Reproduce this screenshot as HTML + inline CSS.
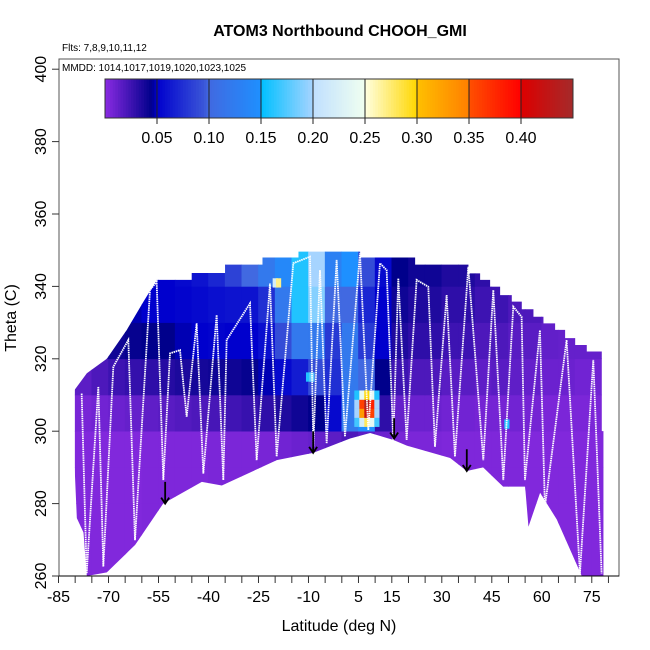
<!DOCTYPE html>
<html><head><meta charset="utf-8"><style>
body{margin:0;background:#fff}
svg{display:block;font-family:"Liberation Sans",Arial,sans-serif}
</style></head><body>
<svg id="chart" width="650" height="650" viewBox="0 0 650 650">
<text x="340" y="36" text-anchor="middle" font-size="16" font-weight="bold">ATOM3 Northbound CHOOH_GMI</text>
<text x="62" y="51" font-size="10">Flts: 7,8,9,10,11,12</text>
<defs><clipPath id="env"><polygon id="envpoly"/></clipPath></defs>
<g id="cells" clip-path="url(#env)"></g>
<g id="tracks"></g>
<g id="arrows"></g>
<rect x="59" y="59" width="560" height="517" fill="none" stroke="#555" stroke-width="1"/>
<text x="62" y="71" font-size="10">MMDD: 1014,1017,1019,1020,1023,1025</text>
<g id="cbar"></g>
<g id="xaxis"></g>
<g id="yaxis"></g>
<text x="339" y="631" text-anchor="middle" font-size="16">Latitude (deg N)</text>
<text transform="translate(16,318) rotate(-90)" text-anchor="middle" font-size="16">Theta (C)</text>
</svg>
<script>
const latBins=[-80,-75,-70,-65,-60,-55,-50,-45,-40,-35,-30,-25,-20,-15,-10,-5,0,5,10,15,20,25,30,35,40,45,50,55,60,65,70,75];
const thetaBands=[260,270,280,290,300,310,320,330,340];
const lowVals=[.003,.003,.003,.003,.004,.004,.004,.004,.005,.005,.005,.006,.008,.01,.012,.015,.02,.015,.01,.006,.005,.005,.004,.004,.004,.004,.004,.003,.003,.003,.003,.003];
const row300=[.006,.008,.01,.012,.014,.016,.018,.02,.022,.024,.027,.03,.035,.04,.045,.055,.12,.15,.03,.012,.01,.01,.008,.008,.007,.007,.008,.007,.005,.005,.005,.005];
const row310=[.015,.02,.025,.028,.03,.033,.036,.038,.04,.04,.043,.048,.055,.065,.09,.075,.12,.1,.045,.025,.02,.02,.016,.016,.014,.016,.014,.012,.01,.01,.008,.008];
const row320=[.03,.035,.04,.043,.045,.045,.048,.05,.052,.05,.05,.058,.09,.12,.12,.08,.12,.08,.05,.035,.03,.03,.025,.025,.02,.02,.016,.016,.013,.012,.012,.012];
const row330=[.04,.04,.045,.048,.05,.05,.052,.055,.058,.06,.06,.075,.12,.16,.19,.1,.1,.07,.05,.04,.035,.035,.03,.03,.025,.025,.02,.02,.016,.014,.014,.014];
const row340=[.05,.05,.05,.05,.05,.05,.055,.06,.07,.085,.1,.12,.14,.16,.2,.13,.15,.09,.055,.045,.04,.04,.035,.035,.03,.03,.02,.02,.02,.02,.02,.02];
const spotLat=[4.5,6,7.5,9,10.5,4.5,6,7.5,9,10.5,4.5,6,7.5,9,10.5,4.5,6,7.5,9,10.5,-20,-19,-10,-9,49.5];
const spotTheta=[302.5,302.5,302.5,302.5,302.5,305,305,305,305,305,307.5,307.5,307.5,307.5,307.5,310,310,310,310,310,341,341,315,315,302];
const spotVal=[.17,.22,.28,.24,.17,.2,.33,.42,.36,.2,.2,.36,.44,.38,.2,.16,.24,.3,.24,.16,.22,.27,.16,.18,.16];
const envTop=[[-80.5,311],[-76.5,316],[-70.5,320],[-64.5,328],[-59.5,335.8],[-55.5,341.8],[-45,341.8],[-45,343.7],[-35,343.7],[-35,346],[-23.8,346],[-23.8,348],[-13,348],[-13,349.6],[5.5,349.6],[5.5,348],[22,348],[22,346],[38,346],[38,343.6],[41.5,343.6],[41.5,341.8],[44.5,341.8],[44.5,339.9],[47.5,339.9],[47.5,337.6],[51,337.6],[51,335.8],[54,335.8],[54,333.7],[57.5,333.7],[57.5,331.6],[60.5,331.6],[60.5,329.8],[64,329.8],[64,328],[67,328],[67,325.7],[70,325.7],[70,323.8],[73.5,323.8],[73.5,322],[78,322],[78,300],[78.5,300]];
const envBottom=[[78.5,260],[72,260],[64.5,275.6],[59.5,283],[56,273.6],[55,284.7],[48.4,284.7],[42.4,290],[37.5,289],[32.5,292.6],[19.5,296],[15.4,297.6],[8.5,299.5],[2.5,298],[-8.6,294],[-19.5,292],[-36,285],[-42,286],[-53.6,280],[-62,268.6],[-70.5,261],[-76.5,260],[-77.5,272],[-79.5,276],[-80.5,297]];
const trackLat=[-78.05,-76.55,-73.05,-71.55,-68.55,-64.05,-62.05,-57.55,-55.55,-53.55,-51.55,-48.55,-46.55,-43.55,-41.55,-37.55,-35.55,-34.55,-27.55,-25.55,-21.55,-19.55,-14.55,-9.55,-8.55,-6.55,-4.55,-1.55,0.95,5.45,7.95,11.45,13.45,15.45,16.95,19.45,22.45,25.95,27.95,31.45,33.95,37.95,42.45,45.45,48.45,51.45,53.95,54.95,59.45,60.95,67.45,71.45,75.45,77.95];
const trackTheta=[310.4,260.7,312.3,262.6,317.8,325.2,269.9,339,341.3,286.5,321.5,322.4,304,329.8,288.3,332.1,286.5,325.2,335.3,292,340.8,293,346.4,348.2,295.7,344.5,296.6,347.3,298.5,349.1,300.3,346.4,344.5,297.6,342.2,297.6,341.8,339.9,295.7,337.6,293,345.4,292,339,286.5,334.4,331.6,286.5,327.9,279.1,325.2,260.7,319.7,260.7];
const arrowLat=[-53,-8.6,15.7,37.5];
const arrowTop=[286,300,303.6,295];
const arrowBot=[280,294,298,289];
const xTicks=[-85,-70,-55,-40,-25,-10,5,15,30,45,60,75];
const yTicks=[260,280,300,320,340,360,380,400];
const cbTicks=[0.05,0.10,0.15,0.20,0.25,0.30,0.35,0.40];

const NS='http://www.w3.org/2000/svg';
const X=l=>58.5+(l+85)*3.333;
const Y=t=>576-(t-260)*3.62;
const stops=[[0,[138,43,226]],[0.045,[0,0,139]],[0.05,[0,0,205]],[0.095,[58,85,216]],[0.1,[65,105,225]],[0.15,[30,144,255]],[0.1501,[0,191,255]],[0.2,[166,212,255]],[0.2001,[192,224,255]],[0.25,[240,255,240]],[0.2501,[255,255,224]],[0.3,[255,215,0]],[0.3001,[255,192,0]],[0.35,[255,127,0]],[0.3501,[255,80,0]],[0.4,[255,0,0]],[0.4001,[221,0,0]],[0.45,[165,42,42]]];
function col(v){v=Math.max(0,Math.min(0.45,v));for(let i=1;i<stops.length;i++){if(v<=stops[i][0]){const a=stops[i-1],b=stops[i],f=(v-a[0])/(b[0]-a[0]||1);return 'rgb('+a[1].map((c,k)=>Math.round(c+(b[1][k]-c)*f)).join(',')+')';}}return 'rgb(165,42,42)';}
function mk(tag,attrs,parent){const e=document.createElementNS(NS,tag);for(const k in attrs)e.setAttribute(k,attrs[k]);parent.appendChild(e);return e;}

document.getElementById('envpoly').setAttribute('points',envTop.concat(envBottom).map(p=>X(p[0])+','+Y(p[1])).join(' '));
const cells=document.getElementById('cells');
const rows=[lowVals,lowVals,lowVals,lowVals,row300,row310,row320,row330,row340];
thetaBands.forEach((t,r)=>{latBins.forEach((l,c)=>{
  const top=r===8?355:t+10;
  const e=mk('rect',{x:X(l)-0.3,y:Y(top)-0.3,width:5*3.333+0.6,height:(top-t)*3.62+0.6,fill:col(rows[r][c])},cells);
  
  
});});
spotLat.forEach((l,i)=>{
  const e=mk('rect',{x:X(l-0.75),y:Y(spotTheta[i]+1.25),width:5.2,height:9.3,fill:col(spotVal[i])},cells);
  
  
});
const tr=document.getElementById('tracks');
const tl=mk('polyline',{points:trackLat.map((l,i)=>X(l)+','+Y(trackTheta[i])).join(' '),fill:'none',stroke:'#fff','stroke-width':1.8,'stroke-dasharray':'1.5 0.7'},tr);


const ar=document.getElementById('arrows');
arrowLat.forEach((l,i)=>{
  const x=X(l),y1=Y(arrowTop[i]),y2=Y(arrowBot[i]);
  const g=mk('path',{d:`M${x},${y1}L${x},${y2}M${x-4},${y2-6}L${x},${y2}L${x+4},${y2-6}`,stroke:'#000','stroke-width':1.8,fill:'none'},ar);
  
  
});
const cb=document.getElementById('cbar');
const cbX=v=>105+v/0.45*468;
for(let i=0;i<180;i++){const v=(i+0.5)*0.45/180;mk('rect',{x:cbX(i*0.45/180),y:79,width:468/180+0.4,height:39,fill:col(v)},cb);}
mk('rect',{x:105,y:79,width:468,height:39,fill:'none',stroke:'#333','stroke-width':1},cb);
cbTicks.forEach(v=>{const x=cbX(v);mk('line',{x1:x,y1:79,x2:x,y2:124,stroke:'#222','stroke-width':1},cb);
  const t=mk('text',{x:x,y:143,'text-anchor':'middle','font-size':16},cb);t.textContent=v.toFixed(2);
  
  });
const xa=document.getElementById('xaxis');
mk('line',{x1:59,y1:576,x2:619,y2:576,stroke:'#000','stroke-width':1},xa);
for(let l=-85;l<=80;l+=5){mk('line',{x1:X(l),y1:576,x2:X(l),y2:583,stroke:'#333','stroke-width':1},xa);}
xTicks.forEach(l=>{const t=mk('text',{x:X(l),y:602,'text-anchor':'middle','font-size':16},xa);t.textContent=l;
  
  });
const ya=document.getElementById('yaxis');
yTicks.forEach(v=>{const y=Y(v);mk('line',{x1:52,y1:y,x2:59,y2:y,stroke:'#333','stroke-width':1},ya);
  const t=mk('text',{transform:`translate(46,${y}) rotate(-90)`,'text-anchor':'middle','font-size':16},ya);t.textContent=v;
  
  });
</script>
</body></html>
